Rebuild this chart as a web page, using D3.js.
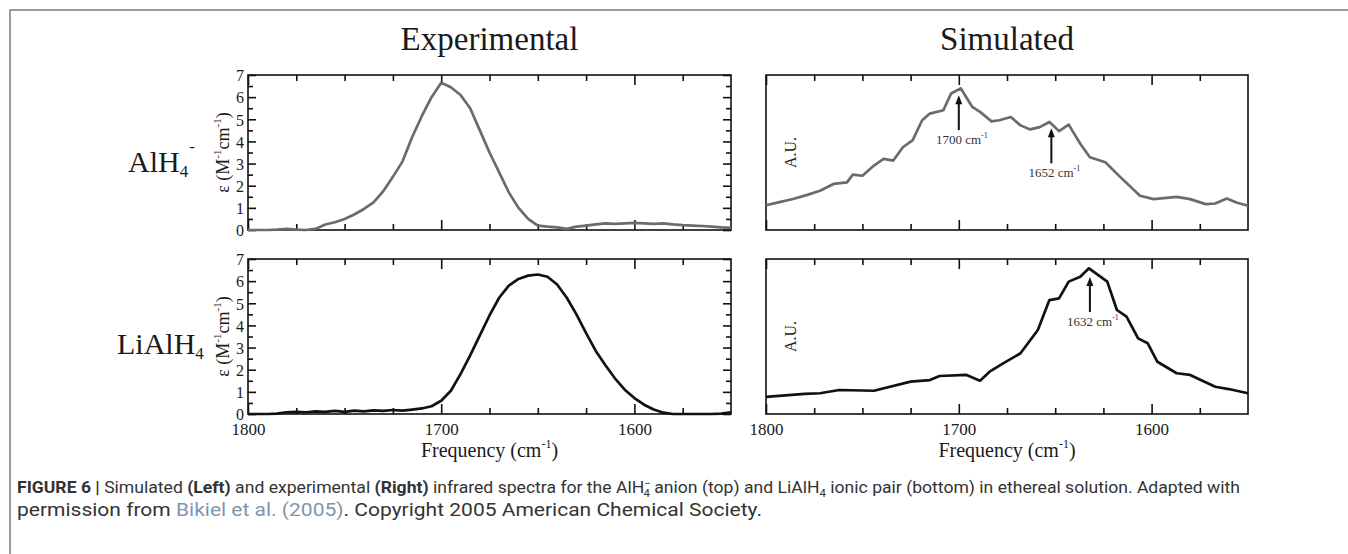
<!DOCTYPE html>
<html>
<head>
<meta charset="utf-8">
<script src="https://cdn.jsdelivr.net/npm/d3@7"></script>
<style>
  body { margin: 0; background: #fff; }
  svg { display: block; }
</style>
</head>
<body>
<svg id="fig" width="1348" height="554"></svg>
<script>
// ---- Experimental spectra (epsilon, M^-1 cm^-1), sampled every 5 cm^-1 ----
const expFreq = [1800,1795,1790,1785,1780,1775,1770,1765,1760,1755,1750,1745,1740,1735,1730,1725,1720,1715,1710,1705,1700,
                 1695,1690,1685,1680,1675,1670,1665,1660,1655,1650,1645,1640,1635,1630,1625,1620,1615,1610,1605,1600,
                 1595,1590,1585,1580,1575,1570,1565,1560,1555,1550];
const expAlH4 = [0,0,0,0.02,0.05,0.02,0,0.05,0.25,0.35,0.5,0.7,0.95,1.25,1.75,2.4,3.1,4.2,5.15,6.0,6.65,
                 6.45,6.1,5.5,4.5,3.5,2.6,1.7,1.0,0.5,0.2,0.15,0.12,0.05,0.15,0.2,0.25,0.3,0.28,0.3,0.32,
                 0.3,0.28,0.3,0.25,0.22,0.2,0.18,0.15,0.12,0.1];
const expLiAlH4 = [0,0,0,0.02,0.08,0.1,0.08,0.12,0.1,0.14,0.1,0.15,0.12,0.16,0.14,0.18,0.15,0.2,0.25,0.35,0.6,
                   1.05,1.8,2.65,3.55,4.45,5.25,5.8,6.1,6.25,6.3,6.2,5.85,5.25,4.5,3.65,2.85,2.2,1.6,1.1,0.72,
                   0.42,0.2,0.06,0,0,0,0,0,0.02,0.08];

// ---- Simulated spectra (arbitrary units, 0..1 of panel height) ----
const simAlH4Freq = [1800,1793,1786,1779,1772,1765,1758,1755,1750,1744,1739,1734,1729,1724,1719,1715,1708,1704,1699,
                     1693,1689,1683,1679,1673,1668,1663,1658,1653,1648,1643,1637,1632,1624,1617,1606,1599,1587,1580,
                     1572,1567,1561,1556,1550];
const simAlH4 = [0.16,0.18,0.2,0.225,0.253,0.297,0.307,0.357,0.35,0.416,0.459,0.448,0.534,0.578,0.708,0.751,0.773,0.881,0.914,
                 0.794,0.762,0.701,0.708,0.729,0.675,0.649,0.664,0.697,0.638,0.68,0.556,0.469,0.437,0.351,0.221,0.199,0.214,0.199,
                 0.167,0.171,0.203,0.177,0.156];
const simLiAlH4Freq = [1800,1790,1780,1772,1762,1744,1725,1715,1710,1696,1689,1684,1677,1668,1659,1653,1648,1643,1637,
                       1632.5,1623,1618,1613,1607,1602,1597,1587,1580,1567,1560,1550];
const simLiAlH4 = [0.11,0.12,0.13,0.134,0.155,0.15,0.209,0.219,0.245,0.252,0.215,0.273,0.327,0.392,0.542,0.735,0.746,0.854,0.886,
                   0.94,0.854,0.671,0.628,0.488,0.456,0.337,0.263,0.252,0.176,0.161,0.134];

// ---- Peak annotations on the simulated spectra ----
const simAlH4Peaks = [1700, 1652];
const simAlH4PeakTips = [0.87, 0.656];
const simLiAlH4Peaks = [1632];
const simLiAlH4PeakTips = [0.884];

// ---- Axis ticks ----
const freqMajor = [1800, 1700, 1600];
const freqMinor = [1775, 1750, 1725, 1675, 1650, 1625, 1575];
const epsMajor = [0, 1, 2, 3, 4, 5, 6, 7];
const epsMinor = [0.5, 1.5, 2.5, 3.5, 4.5, 5.5, 6.5];

const columnTitles = ["Experimental", "Simulated"];

const svg = d3.select("#fig");
const SERIF = "'Liberation Serif', 'Times New Roman', serif";
const SANS = "Roboto, 'Liberation Sans', Arial, sans-serif";
const INK = "#1a1a1a";

// outer figure frame (open to the right and bottom of the view)
svg.append("rect").attr("x", 10).attr("y", 10).attr("width", 1400).attr("height", 600)
  .attr("fill", "none").attr("stroke", "#6a6a6a").attr("stroke-width", 1.3);

// rich text helper: segments of {t, s: 'sup'|'sub'|undefined, size}
function richText(g, x, y, segs, opts) {
  const t = g.append("text").attr("x", x).attr("y", y)
    .attr("font-family", opts.family || SERIF).attr("font-size", opts.size)
    .attr("fill", opts.fill || INK);
  if (opts.anchor) t.attr("text-anchor", opts.anchor);
  if (opts.transform) t.attr("transform", opts.transform);
  let shift = 0;
  segs.forEach(s => {
    const sp = t.append("tspan").text(s.t);
    let target = 0;
    if (s.s === "sup") target = -(s.up || opts.size * 0.45);
    if (s.s === "sub") target = (s.down || opts.size * 0.22);
    if (target !== shift) { sp.attr("dy", target - shift); shift = target; }
    if (s.s) sp.attr("font-size", s.size || opts.size * 0.62);
    if (s.dx) sp.attr("dx", s.dx);
    if (s.weight) sp.attr("font-weight", s.weight);
    if (s.fill) sp.attr("fill", s.fill);
  });
  return t;
}

const cols = [{x0: 248, x1: 731}, {x0: 766, x1: 1248}];
const rows = [{y0: 75, y1: 230}, {y0: 259, y1: 414}];

function panel(col, row, opt) {
  const {x0, x1} = cols[col];
  const {y0, y1} = rows[row];
  const g = svg.append("g");
  const x = d3.scaleLinear().domain([1800, 1550]).range([x0, x1]);
  const y = d3.scaleLinear().domain(opt.yDomain).range([y1, y0]);

  const fmt = d3.format("d");
  const axB = g.append("g").attr("transform", `translate(0,${y1})`)
    .call(d3.axisBottom(x).tickValues(freqMajor).tickSize(-10).tickPadding(9).tickFormat(row === 1 ? fmt : () => ""));
  const axBm = g.append("g").attr("transform", `translate(0,${y1})`)
    .call(d3.axisBottom(x).tickValues(freqMinor).tickSize(-6).tickFormat(() => ""));
  const axT = g.append("g").attr("transform", `translate(0,${y0})`)
    .call(d3.axisTop(x).tickValues(freqMajor).tickSize(-10).tickFormat(() => ""));
  const axTm = g.append("g").attr("transform", `translate(0,${y0})`)
    .call(d3.axisTop(x).tickValues(freqMinor).tickSize(-6).tickFormat(() => ""));
  const axes = [axB, axBm, axT, axTm];

  if (opt.epsAxis) {
    axes.push(g.append("g").attr("transform", `translate(${x0},0)`)
      .call(d3.axisLeft(y).tickValues(epsMajor).tickSize(-8).tickPadding(4).tickFormat(fmt)));
    axes.push(g.append("g").attr("transform", `translate(${x0},0)`)
      .call(d3.axisLeft(y).tickValues(epsMinor).tickSize(-5).tickFormat(() => "")));
    axes.push(g.append("g").attr("transform", `translate(${x1},0)`)
      .call(d3.axisRight(y).tickValues(epsMajor).tickSize(-8).tickFormat(() => "")));
    axes.push(g.append("g").attr("transform", `translate(${x1},0)`)
      .call(d3.axisRight(y).tickValues(epsMinor).tickSize(-5).tickFormat(() => "")));
  }
  axes.forEach(a => {
    a.select(".domain").remove();
    a.selectAll(".tick line").attr("stroke", "#111").attr("stroke-width", 1.6);
    a.selectAll(".tick text").attr("font-family", SERIF).attr("fill", INK);
  });
  axB.selectAll(".tick text").attr("font-size", 17);
  if (opt.epsAxis) axes[4].selectAll(".tick text").attr("font-size", 16).attr("dy", "0.36em");

  // plot frame
  g.append("rect").attr("x", x0).attr("y", y0).attr("width", x1 - x0).attr("height", y1 - y0)
    .attr("fill", "none").attr("stroke", "#111").attr("stroke-width", 1.6);

  // spectrum
  const pts = opt.freq.map((f, i) => [f, opt.vals[i]]);
  g.append("path").datum(pts)
    .attr("d", d3.line().x(d => x(d[0])).y(d => y(d[1])))
    .attr("fill", "none").attr("stroke", opt.color).attr("stroke-width", 2.7)
    .attr("stroke-linejoin", "round");

  // peak arrows
  if (opt.peaks) {
    opt.peaks.forEach((p, i) => {
      const px = x(p), tip = y(opt.tips[i]), tail = tip + 35;
      g.append("line").attr("x1", px).attr("x2", px).attr("y1", tail).attr("y2", tip + 6)
        .attr("stroke", "#111").attr("stroke-width", 2);
      g.append("path").attr("d", `M${px},${tip} L${px - 3.5},${tip + 9} L${px + 3.5},${tip + 9} Z`)
        .attr("fill", "#111");
      richText(g, px + 3, tail + 14, [{t: `${p} cm`}, {t: "-1", s: "sup", size: 8, up: 6}],
        {size: 13, anchor: "middle", fill: "#333"});
    });
  }

  // y label
  const cy = (y0 + y1) / 2;
  if (opt.epsAxis) {
    richText(g, 0, 0, [{t: "ε (M"}, {t: "-1", s: "sup", size: 11, up: 8}, {t: "cm"}, {t: "-1", s: "sup", size: 11, up: 8}, {t: ")"}],
      {size: 18, anchor: "middle", transform: `translate(229,${cy}) rotate(-90)`});
  } else {
    g.append("text").attr("transform", `translate(796,${cy}) rotate(-90)`)
      .attr("text-anchor", "middle").attr("font-family", SERIF).attr("font-size", 16).attr("fill", INK)
      .text("A.U.");
  }

  // x label
  if (row === 1) {
    richText(g, (x0 + x1) / 2, 457, [{t: "Frequency (cm"}, {t: "-1", s: "sup", size: 12, up: 9}, {t: ")"}],
      {size: 20, anchor: "middle"});
  }
  return g;
}

panel(0, 0, {yDomain: [0, 7], epsAxis: true, freq: expFreq, vals: expAlH4, color: "#6b6b6b"});
panel(0, 1, {yDomain: [0, 7], epsAxis: true, freq: expFreq, vals: expLiAlH4, color: "#111"});
panel(1, 0, {yDomain: [0, 1], epsAxis: false, freq: simAlH4Freq, vals: simAlH4, color: "#6b6b6b",
             peaks: simAlH4Peaks, tips: simAlH4PeakTips});
panel(1, 1, {yDomain: [0, 1], epsAxis: false, freq: simLiAlH4Freq, vals: simLiAlH4, color: "#111",
             peaks: simLiAlH4Peaks, tips: simLiAlH4PeakTips});

// column titles
columnTitles.forEach((t, i) => {
  svg.append("text").attr("x", (cols[i].x0 + cols[i].x1) / 2).attr("y", 50).attr("text-anchor", "middle")
    .attr("font-family", SERIF).attr("font-size", 33).attr("fill", INK).text(t);
});

// row labels
richText(svg, 128, 172, [{t: "AlH"}, {t: "4", s: "sub", size: 17, down: 5}, {t: "-", s: "sup", size: 17, up: 20, dx: 1}],
  {size: 30});
richText(svg, 117, 354, [{t: "LiAlH"}, {t: "4", s: "sub", size: 17, down: 5}], {size: 30});

// caption
const cap1 = richText(svg, 17, 493, [
  {t: "FIGURE 6 | ", weight: "bold"},
  {t: "Simulated "}, {t: "(Left)", weight: "bold"}, {t: " and experimental "}, {t: "(Right)", weight: "bold"},
  {t: " infrared spectra for the AlH"}, {t: "−", s: "sup", size: 11, up: 6}, {t: "4", s: "sub", size: 11, down: 4, dx: -7},
  {t: " anion (top) and LiAlH"}, {t: "4", s: "sub", size: 11, down: 4},
  {t: " ionic pair (bottom) in ethereal solution. Adapted with"}
], {size: 17, family: SANS, fill: "#333"});
cap1.attr("textLength", 1223).attr("lengthAdjust", "spacingAndGlyphs");
const cap2 = richText(svg, 17, 516, [
  {t: "permission from "}, {t: "Bikiel et al. (2005)", fill: "#7f95b0"},
  {t: ". Copyright 2005 American Chemical Society."}
], {size: 18, family: SANS, fill: "#333"});
cap2.attr("textLength", 745).attr("lengthAdjust", "spacingAndGlyphs");
</script>
</body>
</html>
